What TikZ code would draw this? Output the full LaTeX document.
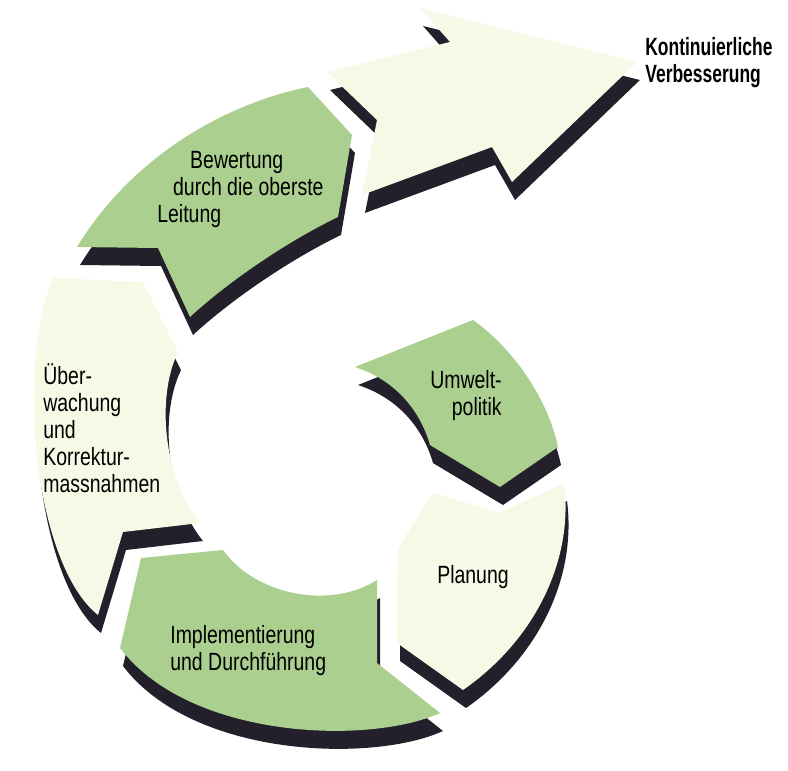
\documentclass[tikz,border=0pt]{standalone}
\usepackage{fontspec}
\setmainfont{Liberation Sans}[FakeStretch=0.78]
\newfontfamily\headfont{Liberation Sans}[FakeStretch=0.70]

\definecolor{segGreen}{RGB}{170,207,143}
\definecolor{segPale}{RGB}{245,250,230}
\definecolor{segDark}{RGB}{35,31,43}

\tikzset{
	greenseg/.style={fill=segGreen},
	paleseg/.style={fill=segPale},
	segshadow/.style={fill=segDark},
	segtext/.style={font=\fontsize{14.2}{15.3}\selectfont, inner sep=0pt}
}

\newcommand{\umweltpath}{(473,320) -- (355,367) .. controls (395,380) and (420,410) .. (430,445) -- (500,487) -- (558,447) .. controls (548,400) and (515,350) .. (473,320) -- cycle}
\newcommand{\planungpath}{(433,493) -- (500,513) -- (564,483) .. controls (574,560) and (535,640) .. (463,690) -- (397,643) -- (398,548) -- cycle}
\newcommand{\implpath}{(377,580) -- (377,663) -- (440,713) .. controls (370,745) and (190,740) .. (120,648) -- (141,558) -- (223,550) .. controls (255,595) and (330,610) .. (377,580) -- cycle}
\newcommand{\ueberpath}{(200,523) -- (123,532) -- (98,615) .. controls (35,565) and (15,370) .. (53,278) -- (143,282) -- (178,352) .. controls (155,400) and (165,480) .. (200,523) -- cycle}
\newcommand{\bewpath}{(77,247) -- (158,248) -- (190,317) .. controls (230,280) and (290,240) .. (338,217) -- (352,135) -- (308,87) .. controls (220,105) and (130,160) .. (77,247) -- cycle}
\newcommand{\arrowpath}{(327,72) -- (377,120) -- (362,195) -- (492,147) -- (512,182) -- (637,62) -- (420,8) -- (450,42) -- cycle}

\begin{document}
\begin{tikzpicture}[x=0.02cm, y=-0.02cm]
	
	\useasboundingbox (0,0) rectangle (788,771);
	
	% dark edges under the segments
	\begin{scope}[shift={(3,18)}]
		\fill[segshadow] \umweltpath;
		\fill[segshadow] \planungpath;
		\fill[segshadow] \implpath;
		\fill[segshadow] \ueberpath;
		\fill[segshadow] \bewpath;
		\fill[segshadow] \arrowpath;
	\end{scope}
	
	\begin{scope}
		\fill[greenseg] \umweltpath;
		\fill[paleseg] \planungpath;
		\fill[greenseg] \implpath;
		\fill[paleseg] \ueberpath;
		\fill[greenseg] \bewpath;
		\fill[paleseg] \arrowpath;
	\end{scope}
	
	\node[segtext, anchor=base east, align=right] (umwelt) at (502,415) {Umwelt-\\politik};
	\node[segtext, anchor=base] (planung) at (473,583) {Planung};
	\node[segtext, anchor=base west, align=left] (impl) at (170,670) {Implementierung\\und Durchführung};
	\node[segtext, anchor=base west, align=left] (ueber) at (43,492) {Über-\\wachung\\und\\Korrektur-\\massnahmen};
	\node[segtext, anchor=base west, align=left] (bew) at (157,222) {\hspace*{18.7pt}Bewertung\\\hspace*{9pt}durch die oberste\\Leitung};
	\node[segtext, font=\headfont\bfseries\fontsize{14.2}{15.3}\selectfont, anchor=base west, align=left] (verb) at (645,82) {Kontinuierliche\\Verbesserung};
	
\end{tikzpicture}
\end{document}
